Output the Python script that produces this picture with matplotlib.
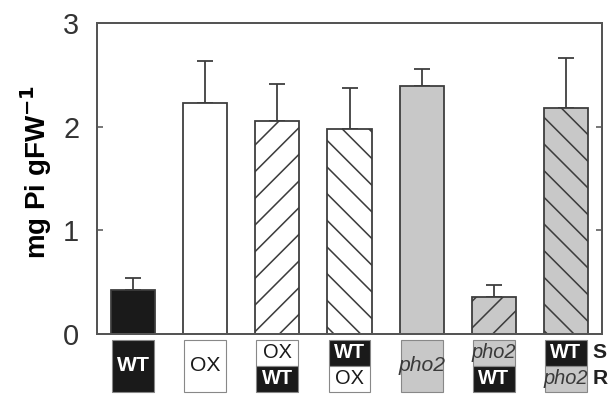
import matplotlib
matplotlib.use("Agg")
import matplotlib.pyplot as plt
from matplotlib.patches import Rectangle

plt.rcParams['font.family'] = ['Liberation Sans', 'DejaVu Sans']
plt.rcParams['hatch.linewidth'] = 0.7

# data
means = [0.42, 2.23, 2.05, 1.98, 2.39, 0.36, 2.18]
errs = [0.12, 0.40, 0.36, 0.39, 0.17, 0.11, 0.48]
fills = ['#1a1a1a', 'white', 'white', 'white', '#c8c8c8', '#c8c8c8', '#c8c8c8']
hatches = ['', '', '//', '\\\\', '', '//', '\\\\']
# graft labels: (shoot, root); None for non-grafted
shoot = ['WT', 'OX', 'OX', 'WT', 'pho2', 'pho2', 'WT']
root = [None, None, 'WT', 'OX', None, 'WT', 'pho2']

edge = '#3c3c3c'
box_style = {
    'WT': ('#1a1a1a', 'white', 'normal'),
    'OX': ('white', '#1a1a1a', 'normal'),
    'pho2': ('#c8c8c8', '#3a3a3a', 'italic'),
}

fig = plt.figure(figsize=(3.8, 2.4625), dpi=160)
ax = fig.add_axes([97 / 608, 1 - 334 / 394, 505 / 608, 311 / 394])

x = list(range(len(means)))
for i in x:
    ax.bar(i, means[i], width=0.61, color=fills[i], edgecolor=edge,
           linewidth=0.8, hatch=hatches[i], zorder=2)
ax.errorbar(x, means, yerr=[[0] * len(errs), errs], fmt='none',
            ecolor=edge, elinewidth=0.8, capsize=3.6, capthick=0.8, zorder=1)

ax.set_xlim(-0.5, 6.5)
ax.set_ylim(0, 3)
ax.set_yticks([0, 1, 2, 3])
ax.set_xticks([])
ax.tick_params(axis='y', direction='in', length=2.5, width=0.7, color='#555555',
               labelsize=13, pad=8, right=True, labelcolor='#333333')
for s in ax.spines.values():
    s.set_color('#555555')
    s.set_linewidth(0.9)
ax.set_ylabel('mg Pi gFW$^{\\mathbf{-1}}$', fontsize=12.5, fontweight='bold',
              labelpad=4, y=0.52)

# graft label boxes below the axis
tr = ax.get_xaxis_transform()
top, mid, bot = -0.019, -0.103, -0.186
bw = 0.58
for i in x:
    parts = [(shoot[i], top, bot)] if root[i] is None else \
        [(shoot[i], top, mid), (root[i], mid, bot)]
    for name, y0, y1 in parts:
        fc, tc, st = box_style[name]
        ax.add_patch(Rectangle((i - bw / 2, y1), bw, y0 - y1, transform=tr,
                               facecolor=fc, edgecolor='#888888', linewidth=0.5,
                               clip_on=False))
        fs = 9.5 if root[i] is None else 9
        ax.text(i, (y0 + y1) / 2, name, transform=tr, ha='center', va='center',
                color=tc, fontsize=fs, fontstyle=st,
                fontweight='bold' if name == 'WT' else 'normal')

ax.text(6.37, (top + mid) / 2, 'S', transform=tr, ha='left',
        va='center', fontsize=9.5, fontweight='bold', color='#222222')
ax.text(6.37, (mid + bot) / 2, 'R', transform=tr, ha='left',
        va='center', fontsize=9.5, fontweight='bold', color='#222222')

fig.savefig('out.png', dpi=160)
